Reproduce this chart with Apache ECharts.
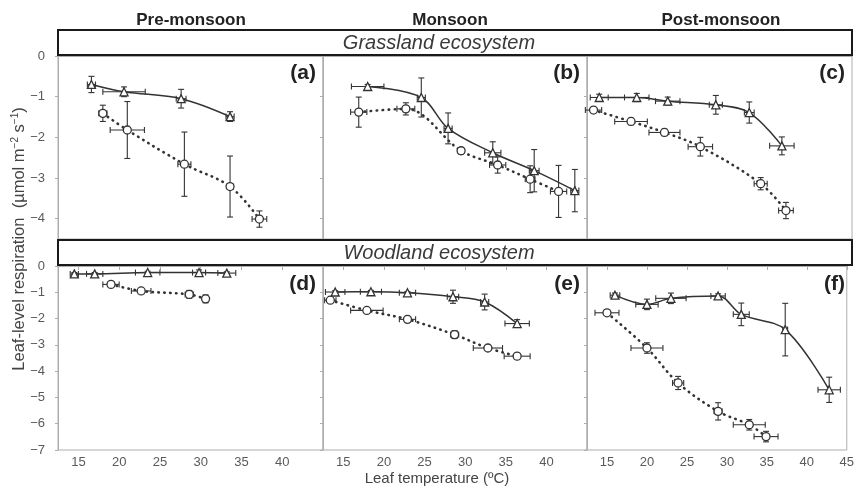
<!DOCTYPE html>
<html><head><meta charset="utf-8">
<script src="https://cdn.jsdelivr.net/npm/echarts@6/dist/echarts.min.js"></script>
<style>html,body{margin:0;padding:0;background:#fff}#c{width:857px;height:492px}</style>
</head><body><div id="c"></div><script>
// ---- Data (x = leaf temperature °C, y = leaf-level respiration µmol m-2 s-1) ----
// Panel (a) Grassland, Pre-monsoon
const aTriX = [16.6, 20.6, 27.6, 33.6];
const aTriY = [-0.70, -0.88, -1.05, -1.49];
const aTriXErr = [0.5, 2.6, 0.6, 0.5];
const aTriYErr = [0.2, 0.12, 0.23, 0.12];
const aCirX = [18.0, 21.0, 28.0, 33.6, 37.2];
const aCirY = [-1.41, -1.82, -2.66, -3.21, -4.01];
const aCirXErr = [0.5, 2.1, 0.8, 0.4, 0.9];
const aCirYErr = [0.2, 0.7, 0.79, 0.75, 0.2];
// Panel (b) Grassland, Monsoon
const bTriX = [18.0, 24.6, 27.9, 33.4, 38.5, 43.5];
const bTriY = [-0.75, -1.02, -1.78, -2.38, -2.82, -3.31];
const bTriXErr = [2.0, 0.5, 0.5, 1.0, 0.6, 0.5];
const bTriYErr = [0.05, 0.48, 0.38, 0.27, 0.52, 0.52];
const bCirX = [16.9, 22.7, 29.5, 34.0, 38.0, 41.5];
const bCirY = [-1.38, -1.30, -2.33, -2.68, -3.03, -3.33];
const bCirXErr = [1.0, 1.1, 0.4, 1.0, 0.6, 1.0];
const bCirYErr = [0.37, 0.15, 0.08, 0.2, 0.33, 0.64];
// Panel (c) Grassland, Post-monsoon
const cTriX = [14.0, 18.6, 22.4, 28.3, 32.4, 36.4];
const cTriY = [-1.02, -1.02, -1.11, -1.20, -1.39, -2.21];
const cTriXErr = [1.1, 1.5, 1.5, 0.8, 0.6, 1.5];
const cTriYErr = [0.08, 0.1, 0.1, 0.23, 0.26, 0.22];
const cCirX = [13.3, 17.9, 22.0, 26.4, 33.8, 36.9];
const cCirY = [-1.33, -1.61, -1.88, -2.23, -3.14, -3.80];
const cCirXErr = [1.0, 2.0, 1.9, 1.5, 0.8, 0.9];
const cCirYErr = [0.05, 0.08, 0.08, 0.23, 0.15, 0.2];
// Panel (d) Woodland, Pre-monsoon
const dTriX = [14.5, 17.0, 23.5, 29.8, 33.2];
const dTriY = [-0.30, -0.30, -0.25, -0.25, -0.27];
const dTriXErr = [0.5, 1.0, 1.5, 0.8, 1.1];
const dTriYErr = [0.05, 0.05, 0.05, 0.1, 0.05];
const dCirX = [19.0, 22.7, 28.6, 30.6];
const dCirY = [-0.70, -0.95, -1.08, -1.25];
const dCirXErr = [1.0, 1.2, 0.5, 0.3];
const dCirYErr = [0.05, 0.07, 0.15, 0.15];
// Panel (e) Woodland, Monsoon
const eTriX = [14.0, 18.4, 22.9, 28.5, 32.4, 36.4];
const eTriY = [-0.99, -0.98, -1.02, -1.17, -1.37, -2.19];
const eTriXErr = [1.2, 1.3, 1.0, 0.7, 0.5, 1.5];
const eTriYErr = [0.05, 0.05, 0.05, 0.25, 0.3, 0.15];
const eCirX = [13.4, 17.9, 22.9, 28.7, 32.8, 36.4];
const eCirY = [-1.30, -1.69, -2.03, -2.61, -3.12, -3.43];
const eCirXErr = [0.7, 2.0, 1.0, 0.5, 1.8, 1.6];
const eCirYErr = [0.05, 0.05, 0.05, 0.15, 0.07, 0.07];
// Panel (f) Woodland, Post-monsoon
const fTriX = [16.0, 20.0, 23.0, 28.9, 31.8, 37.3, 42.8];
const fTriY = [-1.11, -1.46, -1.23, -1.14, -1.84, -2.42, -4.71];
const fTriXErr = [0.6, 1.4, 1.9, 0.9, 1.0, 0.3, 1.4];
const fTriYErr = [0.08, 0.2, 0.2, 0.08, 0.43, 1.0, 0.48];
const fCirX = [15.0, 20.0, 23.9, 28.9, 32.8, 34.9];
const fCirY = [-1.78, -3.12, -4.45, -5.53, -6.04, -6.49];
const fCirXErr = [1.5, 2.0, 0.7, 0.5, 2.0, 1.5];
const fCirYErr = [0.05, 0.2, 0.25, 0.33, 0.2, 0.2];

// Tick labels / texts
const xTicks = [15, 20, 25, 30, 35, 40];
const xTicksLast = [15, 20, 25, 30, 35, 40, 45];
const yTicksTop = [0, -1, -2, -3, -4];
const yTicksBottom = [0, -1, -2, -3, -4, -5, -6, -7];
const seasons = ['Pre-monsoon', 'Monsoon', 'Post-monsoon'];
const ecosystems = ['Grassland ecosystem', 'Woodland ecosystem'];
const panelLabels = ['(a)', '(b)', '(c)', '(d)', '(e)', '(f)'];

const panels = [
  [aTriX, aTriY, aTriXErr, aTriYErr, aCirX, aCirY, aCirXErr, aCirYErr],
  [bTriX, bTriY, bTriXErr, bTriYErr, bCirX, bCirY, bCirXErr, bCirYErr],
  [cTriX, cTriY, cTriXErr, cTriYErr, cCirX, cCirY, cCirXErr, cCirYErr],
  [dTriX, dTriY, dTriXErr, dTriYErr, dCirX, dCirY, dCirXErr, dCirYErr],
  [eTriX, eTriY, eTriXErr, eTriYErr, eCirX, eCirY, eCirXErr, eCirYErr],
  [fTriX, fTriY, fTriXErr, fTriYErr, fCirX, fCirY, fCirXErr, fCirYErr]
];

// ---- Layout ----
const colLeft = [58, 323, 587];
const colWidth = [265, 264, 265];
const rowTop = [56, 266];
const rowHeight = [183, 184];
const axisGray = '#adadad';
const labelGray = '#5a5a5a';
const ink = '#333';

const grids = [], xAxes = [], yAxes = [], series = [];
const fmtMinus = v => String(v).replace('-', '\u2212');

function errRender(params, api) {
  const x = api.value(0), y = api.value(1), ex = api.value(2), ey = api.value(3);
  const l = api.coord([x - ex, y]), r = api.coord([x + ex, y]);
  const t = api.coord([x, y + ey]), b = api.coord([x, y - ey]);
  const cap = 3;
  const st = { stroke: ink, lineWidth: 1.1 };
  return { type: 'group', children: [
    { type: 'line', shape: { x1: l[0], y1: l[1], x2: r[0], y2: r[1] }, style: st },
    { type: 'line', shape: { x1: l[0], y1: l[1] - cap, x2: l[0], y2: l[1] + cap }, style: st },
    { type: 'line', shape: { x1: r[0], y1: r[1] - cap, x2: r[0], y2: r[1] + cap }, style: st },
    { type: 'line', shape: { x1: t[0], y1: t[1], x2: b[0], y2: b[1] }, style: st },
    { type: 'line', shape: { x1: t[0] - cap, y1: t[1], x2: t[0] + cap, y2: t[1] }, style: st },
    { type: 'line', shape: { x1: b[0] - cap, y1: b[1], x2: b[0] + cap, y2: b[1] }, style: st }
  ]};
}

for (let i = 0; i < 6; i++) {
  const row = Math.floor(i / 3), col = i % 3;
  grids.push({ left: colLeft[col], top: rowTop[row], width: colWidth[col], height: rowHeight[row],
    show: true, borderColor: axisGray, borderWidth: 1, backgroundColor: 'transparent' });
  const xt = (i === 5) ? xTicksLast : xTicks;
  xAxes.push({ type: 'value', gridIndex: i, min: 12.5, max: 45,
    axisLine: { show: true, lineStyle: { color: axisGray } },
    axisTick: { show: true, customValues: xt, inside: row === 0, length: row === 0 ? 3 : 4, lineStyle: { color: axisGray } },
    axisLabel: { show: row === 1, customValues: xt, color: labelGray, fontSize: 13, margin: 6, fontFamily: 'Liberation Sans' },
    splitLine: { show: false } });
  yAxes.push({ type: 'value', gridIndex: i, min: row === 0 ? -4.5 : -7, max: 0,
    axisLine: { show: true, lineStyle: { color: axisGray } },
    axisTick: { show: true, customValues: row === 0 ? yTicksTop : yTicksBottom, length: 3, lineStyle: { color: axisGray } },
    axisLabel: { show: col === 0, customValues: row === 0 ? yTicksTop : yTicksBottom, color: labelGray, fontSize: 13, margin: 13,
      fontFamily: 'Liberation Sans', formatter: fmtMinus },
    splitLine: { show: false } });

  const p = panels[i];
  const triErr = p[0].map((x, k) => [x, p[1][k], p[2][k], p[3][k]]);
  const cirErr = p[4].map((x, k) => [x, p[5][k], p[6][k], p[7][k]]);
  series.push({ type: 'custom', xAxisIndex: i, yAxisIndex: i, renderItem: errRender, data: triErr, z: 2, silent: true });
  series.push({ type: 'custom', xAxisIndex: i, yAxisIndex: i, renderItem: errRender, data: cirErr, z: 2, silent: true });
  series.push({ type: 'line', xAxisIndex: i, yAxisIndex: i, data: p[0].map((x, k) => [x, p[1][k]]),
    smooth: 0.35, symbol: 'triangle', symbolSize: 8, z: 4,
    lineStyle: { color: ink, width: 1.5 },
    itemStyle: { color: '#fff', borderColor: ink, borderWidth: 1.3 } });
  series.push({ type: 'line', xAxisIndex: i, yAxisIndex: i, data: p[4].map((x, k) => [x, p[5][k]]),
    smooth: 0.35, symbol: 'circle', symbolSize: 8, z: 3,
    lineStyle: { color: ink, width: 2.6, type: [0.5, 5.5], cap: 'round' },
    itemStyle: { color: '#fff', borderColor: ink, borderWidth: 1.3 } });
}

const graphic = [];
// header boxes
const boxY = [30, 240];
for (let r = 0; r < 2; r++) {
  graphic.push({ type: 'rect', shape: { x: 58, y: boxY[r], width: 794, height: 25 },
    style: { fill: '#fff', stroke: '#1a1a1a', lineWidth: 2 }, z: 10 });
  graphic.push({ type: 'text', x: 439, y: boxY[r] + 13, z: 11,
    style: { text: ecosystems[r], fill: '#3a3a3a', font: 'italic 20px "Liberation Sans"', align: 'center', verticalAlign: 'middle' } });
}
const seasonX = [191, 450, 721];
for (let c = 0; c < 3; c++) {
  graphic.push({ type: 'text', x: seasonX[c], y: 20, z: 11,
    style: { text: seasons[c], fill: '#222', font: 'bold 17px "Liberation Sans"', align: 'center', verticalAlign: 'middle' } });
}
const labY = [73, 284];
for (let i = 0; i < 6; i++) {
  const row = Math.floor(i / 3), col = i % 3;
  graphic.push({ type: 'text', x: colLeft[col] + colWidth[col] - 7, y: labY[row], z: 11,
    style: { text: panelLabels[i], fill: '#222', font: 'bold 21px "Liberation Sans"', align: 'right', verticalAlign: 'middle' } });
}
graphic.push({ type: 'text', x: 437, y: 479, z: 11,
  style: { text: 'Leaf temperature (\u00baC)', fill: '#444', font: '15px "Liberation Sans"', align: 'center', verticalAlign: 'middle' } });
graphic.push({ type: 'text', x: 19, y: 239, rotation: Math.PI / 2, z: 11,
  style: { text: 'Leaf-level respiration  (\u00b5mol m{sup|\u22122} s{sup|\u22121})', fill: '#444',
    font: '16.5px "Liberation Sans"', align: 'center', verticalAlign: 'middle',
    rich: { sup: { fontSize: 10, verticalAlign: 'top', padding: [0, 0, 8, 0], fill: '#444' } } } });

const chart = echarts.init(document.getElementById('c'), null, { renderer: 'canvas' });
chart.setOption({ animation: false, grid: grids, xAxis: xAxes, yAxis: yAxes, series: series, graphic: graphic });
</script></body></html>
